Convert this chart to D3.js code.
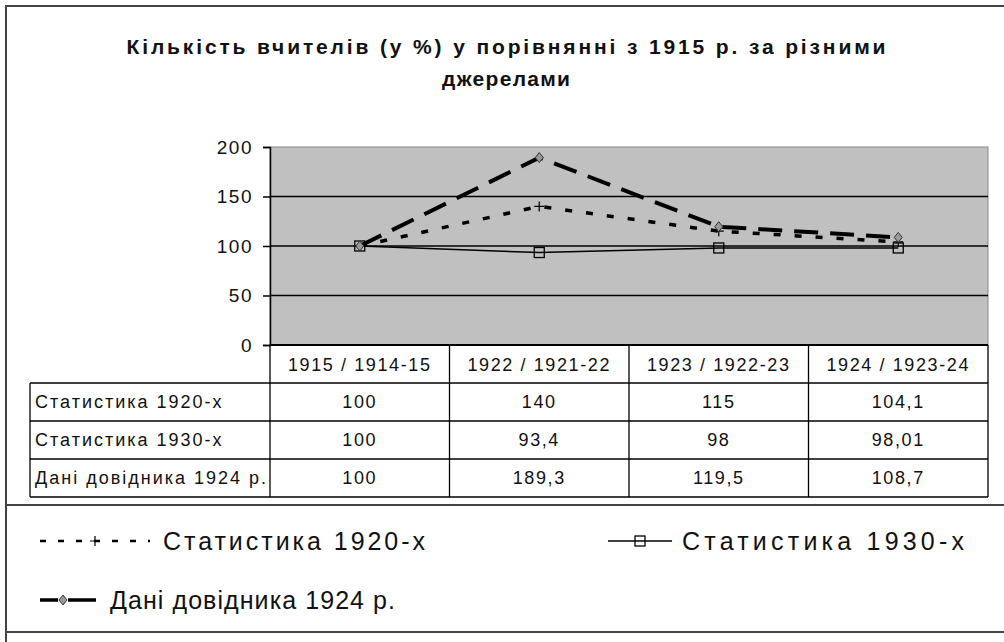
<!DOCTYPE html>
<html>
<head>
<meta charset="utf-8">
<script src="https://cdn.jsdelivr.net/npm/d3@7"></script>
<style>
  html, body { margin: 0; padding: 0; background: #fff; }
  svg text { font-family: "Liberation Sans", Arial, sans-serif; fill: #111; }
</style>
</head>
<body>
<div id="chart"></div>
<script>
// data
const categories = ["1915 / 1914-15", "1922 / 1921-22", "1923 / 1922-23", "1924 / 1923-24"];
const seriesNames = ["Статистика 1920-х", "Статистика 1930-х", "Дані довідника 1924 р."];
const stat1920 = [100, 140, 115, 104.1];
const stat1930 = [100, 93.4, 98, 98.01];
const dovidnyk1924 = [100, 189.3, 119.5, 108.7];
const yTicks = [0, 50, 100, 150, 200];
const titleLines = ["Кількість вчителів (у %) у порівнянні з 1915 р. за різними", "джерелами"];

const seriesValues = [stat1920, stat1930, dovidnyk1924];

const W = 1004, H = 642;
const plot = { left: 270, right: 988, top: 147, bottom: 345 };
const tableLeft = 30, tableBottom = 497;

const svg = d3.select("#chart").append("svg")
    .attr("width", W).attr("height", H);

// frame
const frame = svg.append("g").attr("stroke", "#444").attr("stroke-width", 2).attr("fill", "none");
frame.append("path").attr("d", `M6,${H} V6 H${W}`);
frame.append("line").attr("x1", 6).attr("x2", W).attr("y1", 505).attr("y2", 505);
frame.append("line").attr("x1", 6).attr("x2", W).attr("y1", 632).attr("y2", 632);

// title
const titleWidths = [759, 128];
svg.append("g").selectAll("text")
    .data(titleLines)
    .join("text")
    .attr("x", 506)
    .attr("y", (d, i) => 54 + i * 32)
    .attr("text-anchor", "middle")
    .attr("font-size", 21)
    .attr("font-weight", "bold")
    .attr("textLength", (d, i) => titleWidths[i])
    .attr("lengthAdjust", "spacing")
    .text(d => d);

// scales
const x = d3.scaleBand().domain(categories).range([plot.left, plot.right]);
const y = d3.scaleLinear().domain([0, 200]).range([plot.bottom, plot.top]);
const cx = c => x(c) + x.bandwidth() / 2;

// plot area
svg.append("rect")
    .attr("x", plot.left).attr("y", plot.top)
    .attr("width", plot.right - plot.left).attr("height", plot.bottom - plot.top)
    .attr("fill", "#c0c0c0").attr("stroke", "#888").attr("stroke-width", 1);

// grid
svg.append("g").selectAll("line")
    .data(yTicks.filter(t => t > 0 && t < 200))
    .join("line")
    .attr("x1", plot.left).attr("x2", plot.right)
    .attr("y1", d => y(d)).attr("y2", d => y(d))
    .attr("stroke", "#000").attr("stroke-width", 1.5);

// y axis
const yAxis = svg.append("g")
    .attr("transform", `translate(${plot.left},0)`)
    .call(d3.axisLeft(y).tickValues(yTicks).tickSize(7).tickPadding(10));
yAxis.select(".domain").attr("stroke", "#000").attr("stroke-width", 1.5);
yAxis.selectAll(".tick line").attr("stroke", "#000").attr("stroke-width", 1.5);
yAxis.selectAll("text")
    .attr("font-size", 19)
    .attr("letter-spacing", 1.5)
    .attr("fill", "#111")
    .style("font-family", "Liberation Sans, Arial, sans-serif");

// data table
const rows = d3.scaleBand().domain(seriesNames).range([383, tableBottom]);
const table = svg.append("g");
const tl = table.append("g").attr("stroke", "#000").attr("stroke-width", 1.3);
tl.append("line").attr("x1", plot.left).attr("x2", plot.right).attr("y1", plot.bottom).attr("y2", plot.bottom).attr("stroke-width", 2);
tl.selectAll(".hrow")
    .data(seriesNames.concat(["end"]))
    .join("line")
    .attr("x1", tableLeft).attr("x2", plot.right)
    .attr("y1", (d, i) => i < seriesNames.length ? rows(d) : rows.range()[1])
    .attr("y2", (d, i) => i < seriesNames.length ? rows(d) : rows.range()[1]);
tl.append("line").attr("x1", tableLeft).attr("x2", tableLeft).attr("y1", rows.range()[0]).attr("y2", tableBottom);
tl.selectAll(".vcol")
    .data(categories)
    .join("line")
    .attr("x1", d => x(d)).attr("x2", d => x(d))
    .attr("y1", plot.bottom).attr("y2", tableBottom);
tl.append("line").attr("x1", plot.right).attr("x2", plot.right).attr("y1", plot.bottom).attr("y2", tableBottom);

// header labels
table.selectAll(".hdr")
    .data(categories)
    .join("text")
    .attr("x", d => cx(d))
    .attr("y", 371)
    .attr("text-anchor", "middle")
    .attr("font-size", 18)
    .attr("letter-spacing", 1.6)
    .text(d => d);

// row labels
table.selectAll(".rowlab")
    .data(seriesNames)
    .join("text")
    .attr("x", tableLeft + 5)
    .attr("y", d => rows(d) + rows.bandwidth() / 2 + 6)
    .attr("font-size", 18)
    .attr("letter-spacing", 2)
    .text(d => d);

// values
seriesNames.forEach((name, si) => {
    table.selectAll(".val" + si)
        .data(seriesValues[si])
        .join("text")
        .attr("x", (d, i) => cx(categories[i]))
        .attr("y", rows(name) + rows.bandwidth() / 2 + 6)
        .attr("text-anchor", "middle")
        .attr("font-size", 18)
        .attr("letter-spacing", 1.6)
        .text(d => String(d).replace(".", ","));
});

// series styles
const styles = [
    { dash: "7,14", width: 3.5, marker: "plus" },
    { dash: null, width: 1.5, marker: "square" },
    { dash: "24,12", width: 4, marker: "diamond" }
];

function drawMarker(g, type, px, py) {
    if (type === "plus") {
        g.append("path").attr("d", `M${px - 5},${py} H${px + 5} M${px},${py - 5} V${py + 5}`)
            .attr("stroke", "#000").attr("stroke-width", 1.2);
    } else if (type === "square") {
        g.append("rect").attr("x", px - 5).attr("y", py - 5).attr("width", 10).attr("height", 10)
            .attr("fill", "none").attr("stroke", "#000").attr("stroke-width", 1.3);
    } else {
        g.append("path").attr("d", `M${px},${py - 5} L${px + 4},${py} L${px},${py + 5} L${px - 4},${py} Z`)
            .attr("fill", "#999").attr("stroke", "#333").attr("stroke-width", 1);
    }
}

const line = d3.line().x((d, i) => cx(categories[i])).y(d => y(d));
const lines = svg.append("g");
seriesValues.forEach((vals, si) => {
    lines.append("path")
        .attr("d", line(vals))
        .attr("fill", "none")
        .attr("stroke", "#000")
        .attr("stroke-width", styles[si].width)
        .attr("stroke-dasharray", styles[si].dash);
});
seriesValues.forEach((vals, si) => {
    vals.forEach((v, i) => drawMarker(lines, styles[si].marker, cx(categories[i]), y(v)));
});

// legend
const legendItems = [
    { x: 40, y: 541, len: 110, mark: 55, dash: "6,12", w: 2.5, textX: 163, textW: 262 },
    { x: 608, y: 541, len: 64, mark: 32, dash: null, w: 1.5, textX: 682, textW: 282 },
    { x: 40, y: 600, len: 56, mark: 23, dash: "18,10,28", w: 3.5, textX: 110, textW: 285 }
];
const legend = svg.append("g");
seriesNames.forEach((name, si) => {
    const it = legendItems[si];
    legend.append("line")
        .attr("x1", it.x).attr("x2", it.x + it.len)
        .attr("y1", it.y).attr("y2", it.y)
        .attr("stroke", "#000")
        .attr("stroke-width", it.w)
        .attr("stroke-dasharray", it.dash);
    drawMarker(legend, styles[si].marker, it.x + it.mark, it.y);
    legend.append("text")
        .attr("x", it.textX).attr("y", it.y + 9)
        .attr("font-size", 25)
        .attr("textLength", it.textW)
        .attr("lengthAdjust", "spacing")
        .text(name);
});
</script>
</body>
</html>
